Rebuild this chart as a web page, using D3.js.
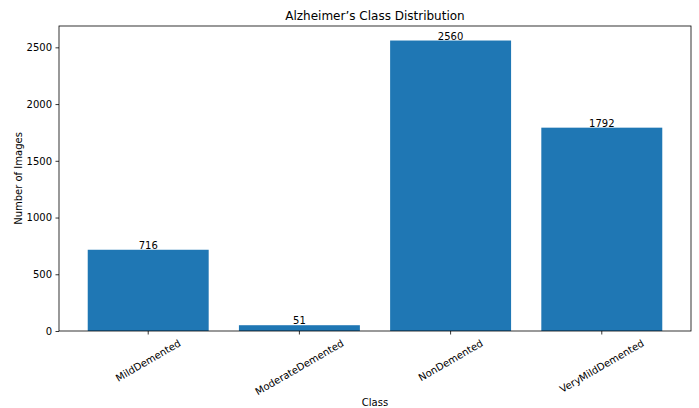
<!DOCTYPE html>
<html lang="en">
  <head>
    <meta charset="UTF-8" />
    <title>Alzheimer's Class Distribution</title>
    <script src="https://d3js.org/d3.v7.min.js"></script>
    <style>
      body { margin: 0; background: #fff; }
      text { font-family: 'DejaVu Sans', sans-serif; fill: #000; }
    </style>
  </head>
  <body>
    <svg width="699" height="408"></svg>

    <script>
      // Data
      const classes = ['MildDemented', 'ModerateDemented', 'NonDemented', 'VeryMildDemented'];
      const counts = [716, 51, 2560, 1792];
      const yTicks = [0, 500, 1000, 1500, 2000, 2500];

      const svg = d3.select('svg');
      const margin = { left: 59, right: 8, top: 26, bottom: 77 };
      const width = 699, height = 408;
      const x0 = margin.left, x1 = width - margin.right;
      const y0 = height - margin.bottom, y1 = margin.top;

      // matplotlib-like margins: bars width 0.8, 5% padding
      const lo = -0.4, hi = classes.length - 1 + 0.4;
      const pad = (hi - lo) * 0.05;
      const x = d3.scaleLinear().domain([lo - pad, hi + pad]).range([x0, x1]);
      const y = d3.scaleLinear().domain([0, d3.max(counts) * 1.05]).range([y0, y1]);

      // Bars
      svg.selectAll('.bar')
        .data(counts)
        .enter()
        .append('rect')
        .attr('class', 'bar')
        .attr('x', (d, i) => x(i - 0.4))
        .attr('width', (d, i) => x(i + 0.4) - x(i - 0.4))
        .attr('y', (d) => y(d))
        .attr('height', (d) => y(0) - y(d))
        .attr('fill', '#1f77b4');

      // Value labels
      svg.selectAll('.val')
        .data(counts)
        .enter()
        .append('text')
        .attr('class', 'val')
        .attr('x', (d, i) => x(i))
        .attr('y', (d) => y(d) - 1)
        .attr('text-anchor', 'middle')
        .attr('font-size', 10)
        .text((d) => d);

      // Y axis
      const yAxis = svg.append('g')
        .attr('transform', `translate(${x0},0)`)
        .call(d3.axisLeft(y).tickValues(yTicks).tickSize(3.5).tickPadding(3.5).tickFormat(d3.format('d')));
      yAxis.select('.domain').remove();
      yAxis.selectAll('text').attr('font-size', 10).attr('font-family', 'DejaVu Sans').attr('fill', '#000');
      yAxis.selectAll('line').attr('stroke', '#000').attr('stroke-width', 0.8);

      // X axis ticks
      const xg = svg.append('g');
      classes.forEach((c, i) => {
        xg.append('line')
          .attr('x1', x(i)).attr('x2', x(i))
          .attr('y1', y0).attr('y2', y0 + 3.5)
          .attr('stroke', '#000').attr('stroke-width', 0.8);
        const t = xg.append('text')
          .attr('font-size', 10)
          .attr('text-anchor', 'middle')
          .attr('dy', '0.35em')
          .text(c);
        // rotate 30 deg, bbox top aligned below tick
        const w = t.node().getComputedTextLength();
        const h = 10;
        const a = Math.PI / 6;
        const bh = w * Math.sin(a) + h * Math.cos(a);
        const cy = y0 + 3.5 + 3.5 + bh / 2;
        t.attr('transform', `translate(${x(i)},${cy}) rotate(-30)`);
      });

      // Frame
      svg.append('rect')
        .attr('x', x0).attr('y', y1)
        .attr('width', x1 - x0).attr('height', y0 - y1)
        .attr('fill', 'none')
        .attr('stroke', '#000')
        .attr('stroke-width', 0.8);

      // Title and axis labels
      svg.append('text')
        .attr('x', (x0 + x1) / 2).attr('y', 20)
        .attr('text-anchor', 'middle')
        .attr('font-size', 12)
        .text('Alzheimer’s Class Distribution');

      svg.append('text')
        .attr('x', (x0 + x1) / 2).attr('y', 406)
        .attr('text-anchor', 'middle')
        .attr('font-size', 10)
        .text('Class');

      svg.append('text')
        .attr('transform', `translate(22,${(y0 + y1) / 2}) rotate(-90)`)
        .attr('text-anchor', 'middle')
        .attr('font-size', 10)
        .text('Number of Images');
    </script>
  </body>
</html>
